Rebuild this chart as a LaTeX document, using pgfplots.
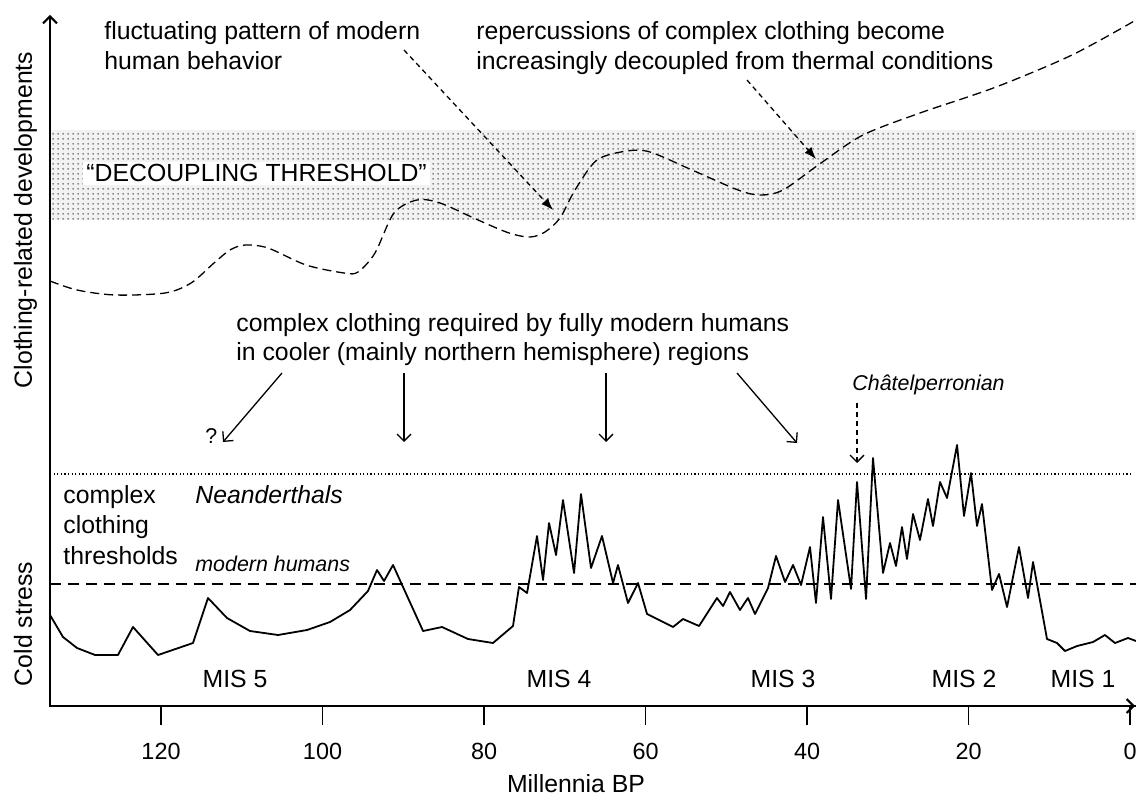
\documentclass[border=0pt]{standalone}
\usepackage{pgfplots}
\pgfplotsset{compat=1.18}
\usepackage{fontspec}
\setmainfont{Liberation Sans}
\usetikzlibrary{arrows.meta,patterns.meta}

\tikzdeclarepattern{
  name=stipple, type=uncolored,
  bounding box={(0pt,0pt) and (2.3pt,2.3pt)},
  tile size={(2.3pt,2.3pt)},
  code={\fill (1.15pt,1.15pt) circle (0.48pt);}
}

\newcommand{\fs}{\fontsize{12.4}{15}\selectfont}
\newcommand{\fss}{\fontsize{10.7}{13}\selectfont}

\begin{document}
\begin{tikzpicture}
\useasboundingbox (-25pt,-47pt) rectangle (543pt,353pt);
\begin{axis}[
  at={(0,0)}, anchor=south west,
  scale only axis, width=543pt, height=345.5pt,
  x dir=reverse, xmin=-0.74, xmax=133.75, ymin=0, ymax=691,
  axis x line=bottom, axis y line=none,
  x axis line style={-, line width=1pt},
  xtick={0,20,40,60,80,100,120}, ytick=\empty,
  tick align=outside, major tick length=9.5pt,
  tick style={line width=0.6pt, black},
  /pgf/number format/assume math mode=true,
  xticklabel style={font=\fontsize{11.7}{14}\selectfont, anchor=base, yshift=-17pt},
  clip=true,
]
% decoupling threshold band
\path[fill=gray!10, postaction={pattern=stipple, pattern color=black!60}]
  (axis cs:133.75,486) rectangle (axis cs:-0.74,576);

% clothing thresholds
\addplot[black, line width=0.6pt, dash pattern=on 0.6pt off 1.2pt] coordinates {(133.75,232) (0.0,232)};
\addplot[black, line width=0.8pt, dash pattern=on 5.5pt off 3.5pt] coordinates {(133.75,122) (-0.74,122)};

% clothing-related developments
\addplot[black, line width=0.65pt, dash pattern=on 4.5pt off 2.5pt, smooth] coordinates {
(133.75,425) (130.40,416) (125.70,411) (119.50,413) (116.28,423) (113.44,443)
(111.46,456) (109.60,461) (106.75,458) (102.04,441) (97.34,433) (95.60,434)
(93.50,453) (91.15,493) (88.30,506) (85.45,503) (80.74,486) (76.90,473)
(74.30,469) (72.45,474) (70.59,488) (68.73,516) (66.01,546) (62.29,555)
(59.44,554) (54.24,536) (48.54,516) (45.82,511) (42.97,516) (38.27,543)
(33.07,571) (26.01,593) (16.59,619) (7.18,651) (-0.74,686)
};

% cold stress
\addplot[black, line width=0.9pt, line join=round] coordinates {
(133.75,91) (132.14,69) (130.40,58) (128.17,51) (125.33,51) (123.47,79)
(120.37,51) (116.04,63) (114.18,108) (111.83,88) (108.98,75) (105.51,71)
(101.92,76) (99.07,84) (96.59,96) (94.37,115) (93.25,136) (92.38,125)
(91.27,141) (87.55,75) (85.20,79) (81.98,67) (78.89,63) (76.41,80)
(75.67,119) (74.67,113) (73.44,170) (72.69,126) (71.95,183) (71.08,151)
(70.22,206) (68.85,133) (67.99,212) (66.75,138) (65.39,170) (64.02,123)
(63.41,141) (62.17,103) (60.93,123) (59.81,92) (56.59,79) (55.36,87)
(53.37,80) (51.15,108) (50.40,100) (49.54,114) (48.30,96) (47.31,108)
(46.44,92) (44.83,118) (43.84,150) (42.72,124) (41.73,141) (40.74,121)
(39.63,159) (38.89,103) (38.02,189) (37.03,107) (36.16,206) (34.55,117)
(33.81,224) (32.69,107) (31.83,248) (30.59,133) (29.72,163) (28.98,140)
(28.24,179) (27.62,147) (26.87,192) (26.01,166) (25.02,207) (24.40,180)
(23.53,224) (22.66,208) (21.42,261) (20.56,190) (19.69,233) (18.95,180)
(18.33,202) (17.09,116) (16.22,132) (15.23,99) (13.75,159) (12.63,108)
(12.01,144) (10.28,67) (9.04,63) (8.05,55) (6.56,60) (4.58,64)
(3.10,71) (1.86,63) (0.25,68) (-0.74,65)
};
\end{axis}

\begin{scope}[x=0.5pt, y=-0.5pt, shift={(-50,-706)}]
% axes
\draw[line width=1pt, -{Straight Barb[length=3.5pt,width=7pt]}] (50,707) -- (50,15);
\draw[line width=1pt, -{Straight Barb[length=3.5pt,width=7pt]}] (49,706) -- (1135,706);

% texts
\node[anchor=base west, font=\fs, inner sep=0pt] at (104,40) {fluctuating pattern of modern};
\node[anchor=base west, font=\fs, inner sep=0pt] at (104,70) {human behavior};
\node[anchor=base west, font=\fs, inner sep=0pt] at (476,40) {repercussions of complex clothing become};
\node[anchor=base west, font=\fs, inner sep=0pt] at (476,70) {increasingly decoupled from thermal conditions};
\node[anchor=base west, font=\fs, inner sep=1.5pt, fill=white] at (83,182) {“DECOUPLING THRESHOLD”};
\node[anchor=base west, font=\fs, inner sep=0pt] at (236,331) {complex clothing required by fully modern humans};
\node[anchor=base west, font=\fs, inner sep=0pt] at (236,360) {in cooler (mainly northern hemisphere) regions};
\node[anchor=base west, font=\fs, inner sep=0pt] at (63,503) {complex};
\node[anchor=base west, font=\fs, inner sep=0pt] at (63,533) {clothing};
\node[anchor=base west, font=\fs, inner sep=0pt] at (63,564) {thresholds};
\node[anchor=base west, font=\fs\itshape, inner sep=0pt] at (195,503) {Neanderthals};
\node[anchor=base west, font=\fss\itshape, inner sep=0pt] at (195,571) {modern humans};
\node[anchor=base west, font=\fss\itshape, inner sep=0pt] at (852,390) {Châtelperronian};
\node[anchor=base west, font=\fss, inner sep=0pt] at (205,443) {?};
\node[anchor=base, font=\fs, inner sep=0pt] at (235,687) {MIS 5};
\node[anchor=base, font=\fs, inner sep=0pt] at (559,687) {MIS 4};
\node[anchor=base, font=\fs, inner sep=0pt] at (783,687) {MIS 3};
\node[anchor=base, font=\fs, inner sep=0pt] at (964,687) {MIS 2};
\node[anchor=base, font=\fs, inner sep=0pt] at (1083,687) {MIS 1};
\node[anchor=base, font=\fs, inner sep=0pt] at (576,792) {Millennia BP};
\node[rotate=90, anchor=base, font=\fs, inner sep=0pt] at (32,220) {Clothing-related developments};
\node[rotate=90, anchor=base, font=\fs, inner sep=0pt] at (32,624) {Cold stress};

% arrows
\draw[line width=0.65pt, dash pattern=on 2.5pt off 2pt, -{Latex[length=6pt,width=4.5pt]}] (404,50) -- (553,210);
\draw[line width=0.65pt, dash pattern=on 2.5pt off 2pt, -{Latex[length=6pt,width=4.5pt]}] (747,80) -- (816,159);
\draw[line width=0.65pt, dash pattern=on 2.5pt off 2pt, -{Straight Barb[length=3.5pt,width=7pt]}] (857,403) -- (857,463);
\draw[line width=0.65pt, -{Straight Barb[length=3.5pt,width=7pt]}] (282,373) -- (223,442);
\draw[line width=0.65pt, -{Straight Barb[length=3.5pt,width=7pt]}] (404,373) -- (404,442);
\draw[line width=0.65pt, -{Straight Barb[length=3.5pt,width=7pt]}] (606,373) -- (606,442);
\draw[line width=0.65pt, -{Straight Barb[length=3.5pt,width=7pt]}] (737,373) -- (797,443);
\end{scope}
\end{tikzpicture}
\end{document}
